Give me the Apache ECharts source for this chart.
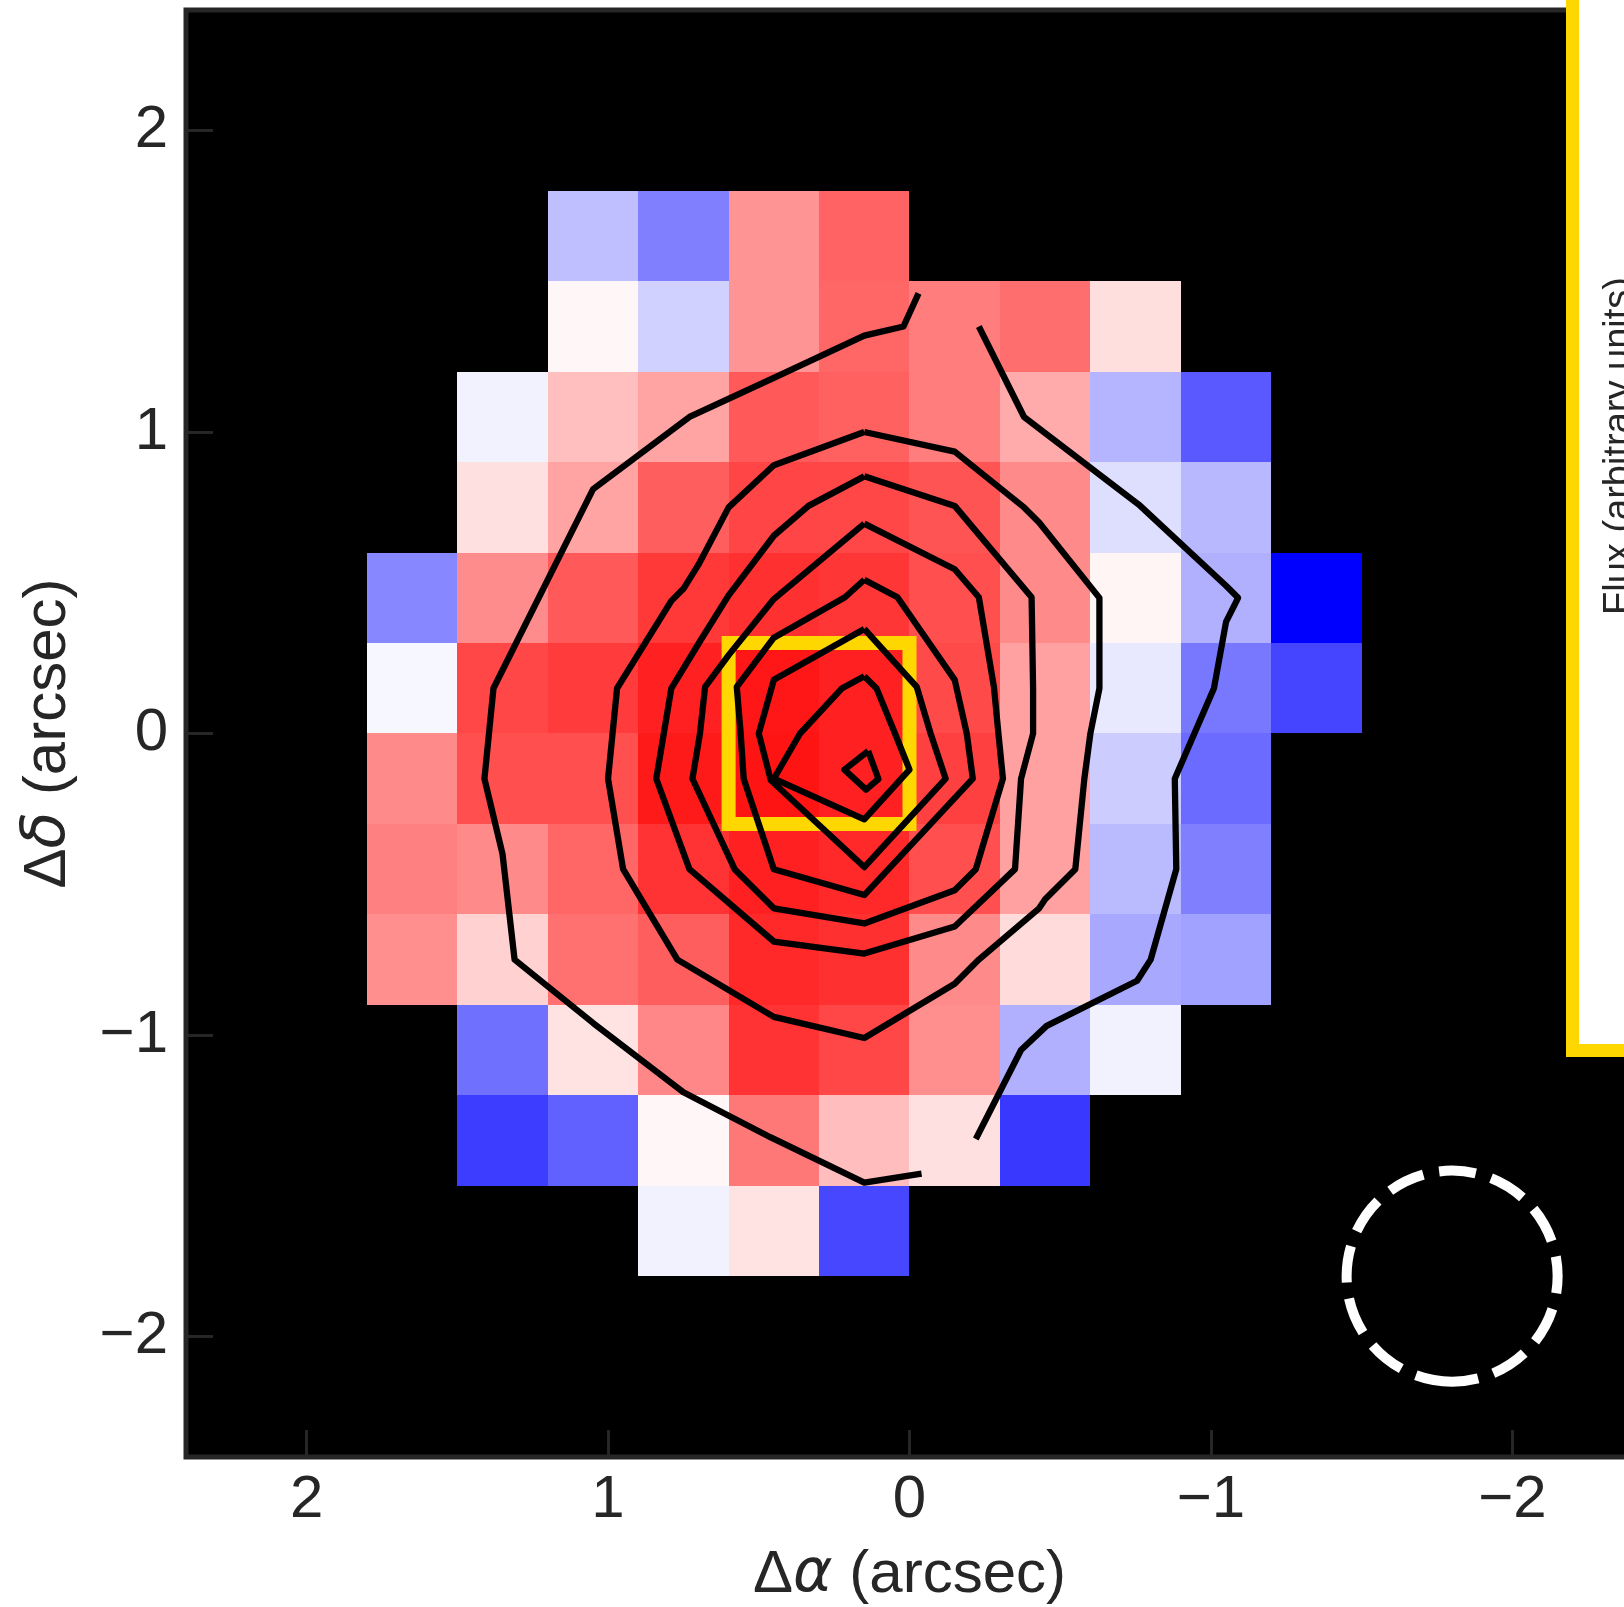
<!DOCTYPE html>
<html><head><meta charset="utf-8">
<script src="https://cdn.jsdelivr.net/npm/echarts@6/dist/echarts.min.js"></script>
<style>html,body{margin:0;padding:0;background:#fff;}#c{width:1624px;height:1607px;}</style>
</head><body><div id="c"></div>
<script>
// ---- data ----
const cellX = [1.65, 1.35, 1.05, 0.75, 0.45, 0.15, -0.15, -0.45, -0.75, -1.05, -1.35];
const cellY = [1.65, 1.35, 1.05, 0.75, 0.45, 0.15, -0.15, -0.45, -0.75, -1.05, -1.35, -1.65];
const cellSize = 0.3;
const N = null;
const velocity = [
  [N, N, -0.25, -0.50, 0.42, 0.61, N, N, N, N, N],
  [N, N, 0.03, -0.18, 0.42, 0.60, 0.51, 0.57, 0.13, N, N],
  [N, -0.05, 0.25, 0.36, 0.65, 0.62, 0.51, 0.33, -0.29, -0.65, N],
  [N, 0.12, 0.36, 0.63, 0.73, 0.72, 0.67, 0.46, -0.13, -0.28, N],
  [-0.47, 0.45, 0.65, 0.78, 0.81, 0.79, 0.69, 0.46, 0.04, -0.31, -1.0],
  [-0.03, 0.72, 0.77, 0.87, 0.91, 0.87, 0.71, 0.37, -0.09, -0.53, -0.73],
  [0.46, 0.69, 0.69, 0.90, 0.92, 0.87, 0.75, 0.37, -0.20, -0.58, N],
  [0.50, 0.46, 0.60, 0.80, 0.87, 0.84, 0.69, 0.37, -0.27, -0.50, N],
  [0.44, 0.18, 0.56, 0.63, 0.84, 0.81, 0.46, 0.14, -0.34, -0.37, N],
  [N, -0.56, 0.11, 0.47, 0.80, 0.72, 0.44, -0.31, -0.05, N, N],
  [N, -0.76, -0.62, 0.03, 0.53, 0.26, 0.12, -0.78, N, N, N],
  [N, N, N, -0.05, 0.11, -0.72, N, N, N, N, N]
];
const tickValues = [-2, -1, 0, 1, 2];
const axisRange = [-2.4, 2.4];

const contourOuterLeft = [[-0.03,1.46],[0.02,1.35],[0.15,1.32],[0.45,1.18],[0.73,1.05],[1.05,0.81],[1.38,0.15],[1.41,-0.15],[1.35,-0.40],[1.31,-0.75],[1.05,-0.96],[0.75,-1.19],[0.46,-1.34],[0.15,-1.49],[-0.04,-1.46]];
const contourOuterRight = [[-0.23,1.35],[-0.38,1.05],[-0.76,0.76],[-1.05,0.49],[-1.09,0.45],[-1.05,0.37],[-1.01,0.15],[-0.88,-0.15],[-0.885,-0.45],[-0.80,-0.75],[-0.755,-0.82],[-0.455,-0.97],[-0.37,-1.05],[-0.22,-1.345]];
const contour2 = [[0.15,1.0],[-0.15,0.935],[-0.38,0.75],[-0.43,0.70],[-0.63,0.45],[-0.63,0.15],[-0.60,0.0],[-0.58,-0.15],[-0.55,-0.45],[-0.45,-0.55],[-0.43,-0.58],[-0.23,-0.75],[-0.15,-0.83],[0.15,-1.01],[0.45,-0.94],[0.77,-0.75],[0.95,-0.45],[1.0,-0.15],[0.97,0.15],[0.79,0.44],[0.75,0.48],[0.70,0.56],[0.60,0.75],[0.45,0.89],[0.15,1.0]];
const contour3 = [[0.15,0.853],[-0.15,0.755],[-0.405,0.452],[-0.41,0.15],[-0.41,0.0],[-0.37,-0.15],[-0.35,-0.45],[-0.15,-0.64],[0.15,-0.73],[0.45,-0.69],[0.73,-0.45],[0.84,-0.15],[0.79,0.15],[0.695,0.306],[0.60,0.458],[0.45,0.656],[0.335,0.755],[0.15,0.853]];
const contour4 = [[0.15,0.696],[-0.15,0.545],[-0.23,0.452],[-0.28,0.155],[-0.295,0.0],[-0.31,-0.15],[-0.22,-0.45],[-0.15,-0.52],[0.15,-0.63],[0.45,-0.58],[0.58,-0.45],[0.72,-0.15],[0.695,0.0],[0.678,0.155],[0.60,0.26],[0.45,0.446],[0.15,0.696]];
const contour5 = [[0.15,0.51],[0.04,0.452],[-0.15,0.178],[-0.19,0.0],[-0.21,-0.15],[0.15,-0.536],[0.45,-0.45],[0.55,-0.15],[0.56,0.0],[0.573,0.155],[0.45,0.318],[0.214,0.452],[0.15,0.51]];
const contour6 = [[0.15,0.347],[-0.024,0.155],[-0.07,0.0],[-0.12,-0.15],[0.15,-0.443],[0.46,-0.155],[0.50,0.0],[0.45,0.178],[0.15,0.347]];
const contour7 = [[0.15,0.19],[0.109,0.149],[0.048,0.0],[0.0,-0.12],[0.15,-0.285],[0.45,-0.15],[0.363,0.0],[0.225,0.149],[0.15,0.19]];
const contour8 = [[0.137,-0.058],[0.103,-0.151],[0.144,-0.186],[0.216,-0.120],[0.137,-0.058]];
const contours = [contourOuterLeft, contourOuterRight, contour2, contour3, contour4, contour5, contour6, contour7, contour8];

const apertureX = [0.0, 0.6];
const apertureY = [-0.3, 0.3];
const beam = [-1.8, -1.8, 0.35]; // centre x, centre y, radius (arcsec)

// ---- build ----
const cells = [];
velocity.forEach((row, i) => row.forEach((v, j) => { if (v !== null) cells.push([cellX[j], cellY[i], v]); }));

const FONT = '"Liberation Sans", Arial, sans-serif';
const TXT = '#262626';
const minus = v => String(v).replace('-', '\u2212');

const chart = echarts.init(document.getElementById('c'), null, {renderer: 'canvas'});
const option = {
  animation: false,
  backgroundColor: '#ffffff',
  grid: {left: 186, top: 10, width: 1447, height: 1447, containLabel: false, outerBoundsMode: 'none',
    show: true, backgroundColor: '#000000', borderColor: '#262626', borderWidth: 5},
  visualMap: {type: 'continuous', show: false, min: -1, max: 1, dimension: 2, seriesIndex: 0,
    inRange: {color: ['#0000ff', '#ffffff', '#ff0000']}},
  xAxis: {
    type: 'value', position: 'bottom', min: axisRange[0], max: axisRange[1], inverse: true,
    axisLine: {show: false, onZero: false}, splitLine: {show: false},
    axisTick: {show: true, inside: true, length: 27, customValues: tickValues, lineStyle: {color: TXT, width: 3}},
    axisLabel: {customValues: tickValues, margin: 13, fontSize: 60, color: TXT, fontFamily: FONT, formatter: minus},
    name: 'Δ{i|α} (arcsec)', nameLocation: 'middle', nameGap: 88,
    nameTextStyle: {fontSize: 60, color: TXT, fontFamily: FONT, rich: {i: {fontSize: 60, color: TXT, fontStyle: 'italic', fontFamily: '"DejaVu Sans", sans-serif'}}}
  },
  yAxis: {
    type: 'value', position: 'left', min: axisRange[0], max: axisRange[1],
    axisLine: {show: false, onZero: false}, splitLine: {show: false},
    axisTick: {show: true, inside: true, length: 27, customValues: tickValues, lineStyle: {color: TXT, width: 3}},
    axisLabel: {customValues: tickValues, margin: 18, fontSize: 60, color: TXT, fontFamily: FONT, formatter: minus},
    name: 'Δ{i|δ} (arcsec)', nameLocation: 'middle', nameGap: 108,
    nameTextStyle: {fontSize: 60, color: TXT, fontFamily: FONT, rich: {i: {fontSize: 60, color: TXT, fontStyle: 'italic', fontFamily: '"DejaVu Sans", sans-serif'}}}
  },
  series: [
    {
      type: 'custom', z: 2, silent: true, data: cells,
      renderItem: (params, api) => {
        const x = api.value(0), y = api.value(1), h = cellSize / 2;
        const a = api.coord([x + h, y + h]), b = api.coord([x - h, y - h]);
        const x0 = Math.round(Math.min(a[0], b[0])), x1 = Math.round(Math.max(a[0], b[0]));
        const y0 = Math.round(Math.min(a[1], b[1])), y1 = Math.round(Math.max(a[1], b[1]));
        return {type: 'rect', shape: {x: x0, y: y0, width: x1 - x0, height: y1 - y0}, style: {fill: api.visual('color')}};
      }
    },
    {
      type: 'custom', z: 3, silent: true, data: [[apertureX[0], apertureY[0], apertureX[1], apertureY[1]]],
      renderItem: (params, api) => {
        const a = api.coord([api.value(0), api.value(1)]), b = api.coord([api.value(2), api.value(3)]);
        return {type: 'rect', shape: {x: Math.min(a[0], b[0]), y: Math.min(a[1], b[1]), width: Math.abs(b[0] - a[0]), height: Math.abs(b[1] - a[1])},
          style: {fill: null, stroke: '#FFD700', lineWidth: 14}};
      }
    },
    {
      type: 'custom', z: 3, silent: true, data: [beam],
      renderItem: (params, api) => {
        const c = api.coord([api.value(0), api.value(1)]);
        const r = Math.abs(api.size([api.value(2), 0])[0]);
        return {type: 'arc', shape: {cx: c[0], cy: c[1], r: r, startAngle: Math.PI / 2, endAngle: Math.PI / 2 + 2 * Math.PI, clockwise: true},
          style: {fill: null, stroke: '#ffffff', lineWidth: 10, lineDash: [37, 16]}};
      }
    }
  ].concat(contours.map(c => ({
    type: 'line', z: 4, silent: true, data: c, symbol: 'none', showSymbol: false, smooth: false,
    lineStyle: {color: '#000000', width: 6.3, join: 'round', cap: 'butt'}
  }))),
  graphic: [
    {type: 'rect', z: 100, shape: {x: 1572.5, y: -20, width: 200, height: 1070.5}, style: {fill: '#ffffff', stroke: '#FFD700', lineWidth: 13}},
    {type: 'text', z: 101, x: 1620, y: 446, rotation: Math.PI / 2,
      style: {text: 'Flux (arbitrary units)', fontSize: 38, fontFamily: FONT, fill: TXT, align: 'center', verticalAlign: 'middle'}}
  ]
};
chart.setOption(option);
</script></body></html>
